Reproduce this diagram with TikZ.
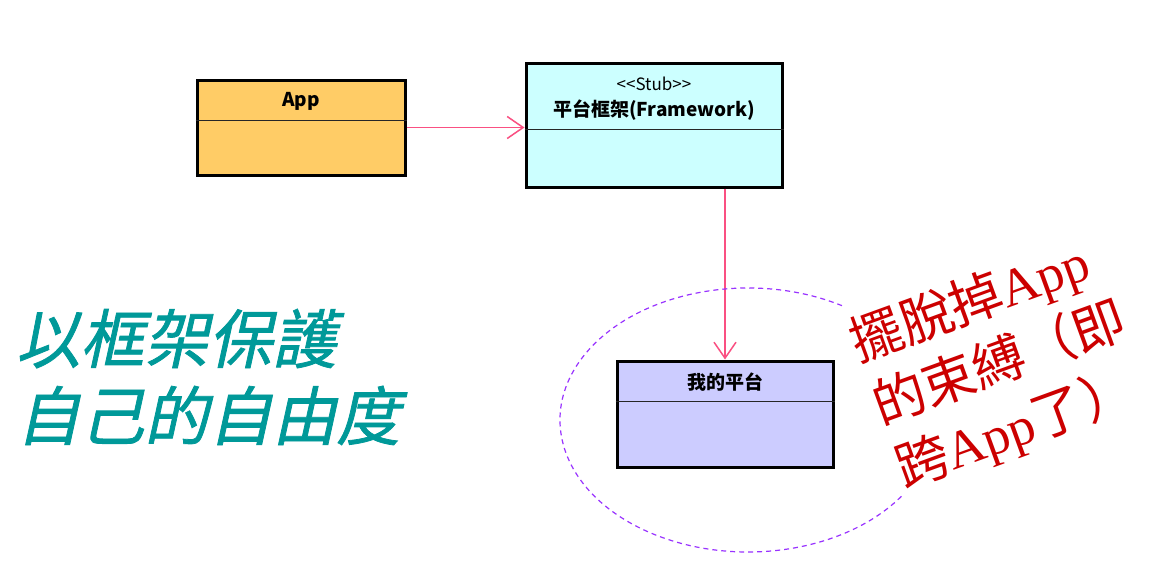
\documentclass[tikz,border=0pt]{standalone}
\usepackage{fontspec}
\newfontfamily\cjk{Noto Sans CJK TC}
\newfontfamily\tealfont[FakeSlant=0.22,FakeBold=1.2]{Noto Sans CJK TC}
\newfontfamily\serifl{Liberation Serif}
\usetikzlibrary{arrows.meta,calc}
\definecolor{appfill}{RGB}{255,204,102}
\definecolor{fwfill}{RGB}{204,255,255}
\definecolor{minefill}{RGB}{204,204,255}
\definecolor{assoccol}{RGB}{250,80,130}
\definecolor{ellcol}{RGB}{153,51,255}
\definecolor{tealcol}{RGB}{0,153,153}
\definecolor{redcol}{RGB}{204,0,0}
\tikzset{
  classbox/.style={draw=black, line width=3pt, rectangle, inner sep=0pt},
  divider/.style={draw=black!85, line width=1.3pt},
  boxtitle/.style={font=\cjk\bfseries\fontsize{19}{21}\selectfont, inner sep=0pt},
  stereo/.style={font=\cjk\fontsize{17}{19}\selectfont, inner sep=0pt},
  assoc/.style={draw=assoccol, line width=1.5pt, -{Straight Barb[length=16pt,width=22pt,line width=1.5pt]}},
  ell/.style={draw=ellcol, line width=1.2pt, dash pattern=on 5pt off 4pt},
}
\begin{document}
\begin{tikzpicture}[x=1pt,y=-1pt]
\useasboundingbox (0,0) rectangle (1170,562);
\fill[white] (0,0) rectangle (1170,562);

% App
\node[classbox, fill=appfill, minimum width=208pt, minimum height=95pt] (app) at (301,127.5) {};
\draw[divider] ($(app.north west)+(0,42)$) -- ($(app.north east)+(0,42)$);
\node[boxtitle] (apptitle) at ($(app.north)+(0,23)$) {App};

% Framework
\node[classbox, fill=fwfill, minimum width=256pt, minimum height=124pt] (fw) at (654,125) {};
\draw[divider] ($(fw.north west)+(0,68)$) -- ($(fw.north east)+(0,68)$);
\node[stereo] (fwst) at ($(fw.north)+(0,22)$) {<<Stub>>};
\node[boxtitle] (fwtitle) at ($(fw.north)+(0,49)$) {平台框架(Framework)};

% Mine
\node[classbox, fill=minefill, minimum width=216pt, minimum height=106pt] (mine) at (725,414) {};
\draw[divider] ($(mine.north west)+(0,42)$) -- ($(mine.north east)+(0,42)$);
\node[boxtitle] (minetitle) at ($(mine.north)+(0,23)$) {我的平台};

% connectors
\draw[assoc] (app.east) -- (app.east -| fw.west);
\draw[assoc] (mine.north |- fw.south) -- (mine.north);

% dashed ellipse arc
\draw[ell] (748,420) ++(-60:188 and 132) arc[start angle=-60, end angle=-325, x radius=188, y radius=132];

% teal text
\node[anchor=west, inner sep=0pt, align=left, text=tealcol,
      font=\tealfont\fontsize{64}{77}\selectfont] (teal) at (16,377) {以框架保護\\自己的自由度};

% red text
\node[rotate=20, inner sep=0pt, align=left, text=redcol,
      font=\cjk\fontsize{53}{67}\selectfont] (red) at (1000,365)
  {擺脫掉{\serifl App}\\的束縛（即\\跨{\serifl App}了）};
\end{tikzpicture}
\end{document}
